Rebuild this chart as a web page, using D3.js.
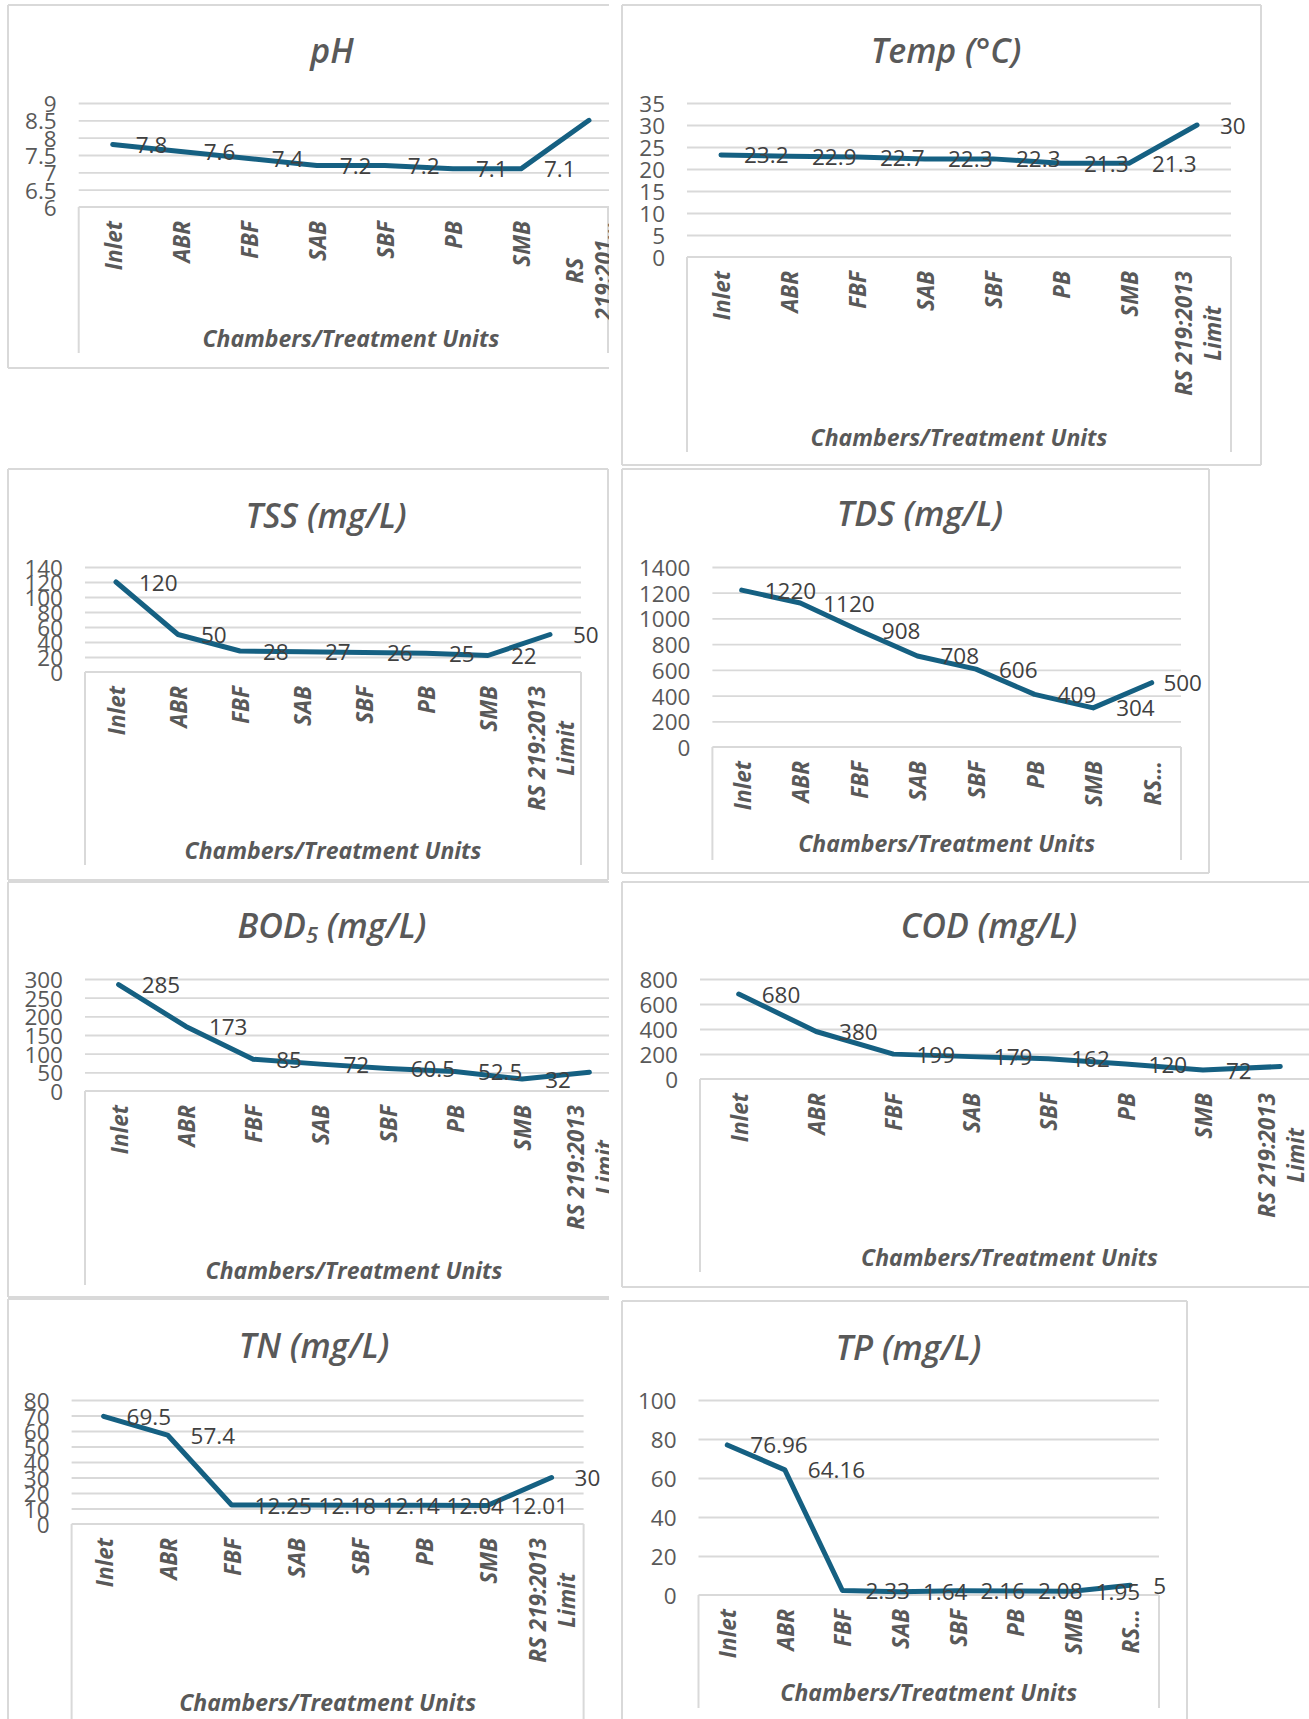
<!DOCTYPE html>
<html><head><meta charset="utf-8">
<script src="https://cdn.jsdelivr.net/npm/d3@7"></script>
<style>
html,body{margin:0;padding:0;background:#fff;}
svg{display:block;}
</style></head>
<body>
<svg id="c" width="1309" height="1719"></svg>
<script>
// ---------- DATA ----------
const categories = ["Inlet","ABR","FBF","SAB","SBF","PB","SMB","RS 219:2013 Limit"];

const phValues   = [7.8, 7.6, 7.4, 7.2, 7.2, 7.1, 7.1, 8.5];
const tempValues = [23.2, 22.9, 22.7, 22.3, 22.3, 21.3, 21.3, 30];
const tssValues  = [120, 50, 28, 27, 26, 25, 22, 50];
const tdsValues  = [1220, 1120, 908, 708, 606, 409, 304, 500];
const bodValues  = [285, 173, 85, 72, 60.5, 52.5, 32, 50];
const codValues  = [680, 380, 199, 179, 162, 120, 72, 100];
const tnValues   = [69.5, 57.4, 12.25, 12.18, 12.14, 12.04, 12.01, 30];
const tpValues   = [76.96, 64.16, 2.33, 1.64, 2.16, 2.08, 1.95, 5];

const phTicks   = [6, 6.5, 7, 7.5, 8, 8.5, 9];
const tempTicks = [0, 5, 10, 15, 20, 25, 30, 35];
const tssTicks  = [0, 20, 40, 60, 80, 100, 120, 140];
const tdsTicks  = [0, 200, 400, 600, 800, 1000, 1200, 1400];
const bodTicks  = [0, 50, 100, 150, 200, 250, 300];
const codTicks  = [0, 200, 400, 600, 800];
const tnTicks   = [0, 10, 20, 30, 40, 50, 60, 70, 80];
const tpTicks   = [0, 20, 40, 60, 80, 100];

const lastLabelWrapped = ["RS 219:2013", "Limit"];
const lastLabelPH      = ["RS", "219:201…"];
const lastLabelShort   = ["RS…"];

const axisTitle = "Chambers/Treatment Units";

// ---------- LAYOUT (positions only) ----------
const panels = [
  {id:"ph",   title:["pH"], values:phValues, ticks:phTicks, last:lastLabelPH,
   left:8, top:5, right:609, bottom:368, borders:["top","left","bottom"],
   x0:78.7, x1:623, yTop:103, yBot:207, boxBottom:353, boxRight:608,
   titleX:332, titleY:50, axisTitleY:338, labelMax:null},
  {id:"temp", title:["Temp (°C)"], values:tempValues, ticks:tempTicks, last:lastLabelWrapped,
   left:622, top:5, right:1261, bottom:465, borders:["top","left","bottom","right"],
   x0:687, x1:1231, yTop:103, yBot:257, boxBottom:452, boxRight:1231,
   titleX:946, titleY:50, axisTitleY:437, labelMax:null},
  {id:"tss",  title:["TSS (mg/L)"], values:tssValues, ticks:tssTicks, last:lastLabelWrapped,
   left:8, top:469, right:608, bottom:880, borders:["top","left","bottom","right"],
   x0:85, x1:581, yTop:567, yBot:672, boxBottom:865, boxRight:581,
   titleX:326, titleY:515, axisTitleY:850, labelMax:null},
  {id:"tds",  title:["TDS (mg/L)"], values:tdsValues, ticks:tdsTicks, last:lastLabelShort,
   left:622, top:469, right:1209, bottom:873, borders:["top","left","bottom","right"],
   x0:712.4, x1:1181, yTop:567, yBot:747, boxBottom:860, boxRight:1181,
   titleX:920, titleY:513, axisTitleY:843, labelMax:1202},
  {id:"bod",  title:["BOD","5"," (mg/L)"], values:bodValues, ticks:bodTicks, last:lastLabelWrapped,
   left:8, top:882, right:609, bottom:1297, borders:["top","left","bottom"],
   x0:85, x1:623, yTop:979, yBot:1091, boxBottom:1285, boxRight:null,
   titleX:332, titleY:925, axisTitleY:1270, labelMax:null},
  {id:"cod",  title:["COD (mg/L)"], values:codValues, ticks:codTicks, last:lastLabelWrapped,
   left:622, top:882, right:1309, bottom:1287, borders:["top","left","bottom"],
   x0:700, x1:1319, yTop:979, yBot:1079, boxBottom:1272, boxRight:null,
   titleX:989, titleY:925, axisTitleY:1257, labelMax:null},
  {id:"tn",   title:["TN (mg/L)"], values:tnValues, ticks:tnTicks, last:lastLabelWrapped,
   left:8, top:1299, right:609, bottom:1730, borders:["top","left"],
   x0:71.6, x1:583.6, yTop:1400, yBot:1524, boxBottom:1740, boxRight:583.6,
   titleX:314, titleY:1345, axisTitleY:1702, labelMax:null},
  {id:"tp",   title:["TP (mg/L)"], values:tpValues, ticks:tpTicks, last:lastLabelShort,
   left:622, top:1301, right:1187, bottom:1730, borders:["top","left","right"],
   x0:698.5, x1:1159, yTop:1400, yBot:1595, boxBottom:1708, boxRight:1159,
   titleX:908.5, titleY:1347, axisTitleY:1692, labelMax:null}
];

// ---------- STYLE ----------
const FONT = "'Open Sans', 'Noto Sans', 'DejaVu Sans', sans-serif";
const GREY = "#595959";
const LABEL = "#404040";
const LINEC = "#d9d9d9";
const SERIES = "#156082";

const svg = d3.select("#c");
const defs = svg.append("defs");
svg.append("rect").attr("width",1309).attr("height",1719).attr("fill","#fff");

function drawPanel(p) {
  const clipId = "clip-" + p.id;
  defs.append("clipPath").attr("id", clipId)
    .append("rect").attr("x", p.left).attr("y", p.top)
    .attr("width", p.right - p.left).attr("height", p.bottom - p.top);

  const g = svg.append("g").attr("clip-path", `url(#${clipId})`);

  const x = d3.scalePoint().domain(categories).range([p.x0, p.x1]).padding(0.5);
  const y = d3.scaleLinear().domain([p.ticks[0], p.ticks[p.ticks.length - 1]]).range([p.yBot, p.yTop]);

  // gridlines
  const grid = g.append("g").attr("transform", `translate(${p.x0},0)`)
    .call(d3.axisLeft(y).tickValues(p.ticks.slice(1)).tickSize(-(p.x1 - p.x0)).tickFormat(""));
  grid.select(".domain").remove();
  grid.selectAll(".tick line").attr("stroke", LINEC).attr("stroke-width", 1.8);

  // category box (axis line + sides)
  const box = g.append("g").attr("stroke", LINEC).attr("stroke-width", 2).attr("fill", "none");
  box.append("line").attr("x1", p.x0).attr("x2", p.x1).attr("y1", p.yBot).attr("y2", p.yBot);
  box.append("line").attr("x1", p.x0).attr("x2", p.x0).attr("y1", p.yBot).attr("y2", p.boxBottom);
  if (p.boxRight !== null) {
    box.append("line").attr("x1", p.boxRight).attr("x2", p.boxRight).attr("y1", p.yBot).attr("y2", p.boxBottom);
  }

  // y tick labels
  const ya = g.append("g").attr("transform", `translate(${p.x0},0)`)
    .call(d3.axisLeft(y).tickValues(p.ticks).tickSize(0).tickPadding(22).tickFormat(d => String(d)));
  ya.select(".domain").remove();
  ya.selectAll("text").attr("font-family", FONT).attr("font-size", 22.5).attr("fill", GREY)
    .attr("dy", null).attr("dominant-baseline", "central");

  // x category labels (rotated)
  const xa = g.append("g").attr("transform", `translate(0,${p.yBot})`)
    .call(d3.axisBottom(x).tickSize(0).tickFormat(""));
  xa.select(".domain").remove();
  xa.selectAll(".tick").each(function(d, i) {
    const t = d3.select(this);
    t.selectAll("text").remove();
    const lines = (i === categories.length - 1) ? p.last : [d];
    const lg = t.append("g").attr("transform", "translate(0,14) rotate(-90)");
    const gap = 29;
    let longest = 0;
    lines.forEach((s, k) => { if (s.length > lines[longest].length) longest = k; });
    const n = lines.length;
    const mk = (s, k) => lg.append("text")
      .attr("font-family", FONT).attr("font-size", 22.5).attr("font-weight", 700)
      .attr("font-style", "italic").attr("fill", GREY)
      .attr("dominant-baseline", "central")
      .attr("y", (k - (n - 1) / 2) * gap).text(s);
    const tl = mk(lines[longest], longest).attr("text-anchor", "end").attr("x", 0);
    const L = tl.node().getComputedTextLength();
    lines.forEach((s, k) => {
      if (k !== longest) mk(s, k).attr("text-anchor", "middle").attr("x", -L / 2);
    });
  });

  // axis title
  g.append("text").attr("x", (p.x0 + p.x1) / 2).attr("y", p.axisTitleY)
    .attr("text-anchor", "middle").attr("dominant-baseline", "central")
    .attr("font-family", FONT).attr("font-size", 23).attr("font-weight", 700)
    .attr("font-style", "italic").attr("fill", GREY).text(axisTitle);

  // series line
  const pts = p.values.map((v, i) => [x(categories[i]), y(v)]);
  g.append("path").attr("d", d3.line()(pts)).attr("fill", "none")
    .attr("stroke", SERIES).attr("stroke-width", 5)
    .attr("stroke-linejoin", "round").attr("stroke-linecap", "round");

  // data labels (right of point), kept inside visible frame like the original
  const dl = g.append("g");
  p.values.forEach((v, i) => {
    const px = x(categories[i]) + 23;
    if (px > p.right - 10) return; // lies outside the visible frame
    const t = dl.append("text")
      .attr("x", px).attr("y", y(v))
      .attr("dominant-baseline", "central")
      .attr("font-family", FONT).attr("font-size", 22.5).attr("fill", LABEL)
      .text(String(v));
    if (p.labelMax !== null) {
      const w = t.node().getComputedTextLength();
      if (px + w > p.labelMax) t.attr("x", p.labelMax - w);
    }
  });

  // chart title
  const tt = g.append("text").attr("x", p.titleX).attr("y", p.titleY)
    .attr("text-anchor", "middle").attr("dominant-baseline", "central")
    .attr("font-family", FONT).attr("font-size", 34).attr("font-weight", 600)
    .attr("font-style", "italic").attr("fill", GREY);
  if (p.title.length === 1) {
    tt.text(p.title[0]);
  } else {
    tt.append("tspan").text(p.title[0]);
    tt.append("tspan").attr("font-size", 22).attr("dy", 9).text(p.title[1]);
    tt.append("tspan").attr("dy", -9).text(p.title[2]);
  }

  // panel borders
  const b = svg.append("g").attr("stroke", LINEC).attr("stroke-width", 2);
  const seg = {
    top: [p.left, p.top, p.right, p.top],
    bottom: [p.left, p.bottom, p.right, p.bottom],
    left: [p.left, p.top, p.left, p.bottom],
    right: [p.right, p.top, p.right, p.bottom]
  };
  p.borders.forEach(k => {
    const s = seg[k];
    b.append("line").attr("x1", s[0]).attr("y1", s[1]).attr("x2", s[2]).attr("y2", s[3]);
  });
}

panels.forEach(drawPanel);
</script>
</body></html>
